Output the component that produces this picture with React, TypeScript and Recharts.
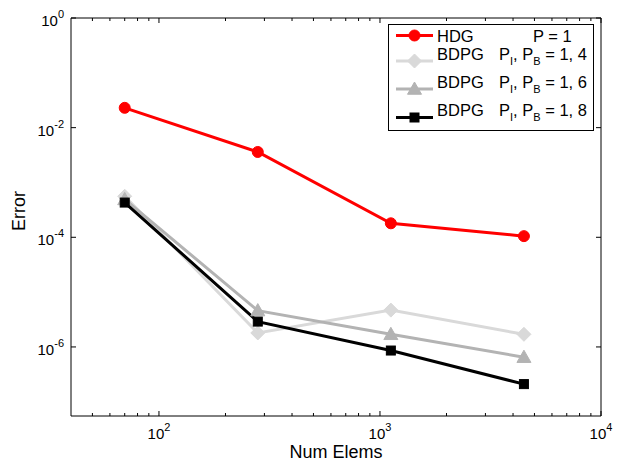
import React from 'react';
import { LineChart, Line, XAxis, YAxis, Legend } from 'recharts';

const numElems = [70, 280, 1120, 4480];
const hdgP1 = [2.3e-2, 3.6e-3, 1.8e-4, 1.05e-4];
const bdpg14 = [5.6e-4, 1.8e-6, 4.7e-6, 1.7e-6];
const bdpg16 = [4.9e-4, 4.6e-6, 1.7e-6, 6.5e-7];
const bdpg18 = [4.3e-4, 2.9e-6, 8.6e-7, 2.1e-7];

const xTicks = [50, 60, 70, 80, 90, 100, 200, 300, 400, 500, 600, 700, 800, 900, 1000, 2000, 3000, 4000, 5000, 6000, 7000, 8000, 9000, 10000];
const xMajor = [100, 1000, 10000];
const yTicks = [1e-6, 1e-4, 1e-2, 1];
const xDomain = [40, 10000];
const yDomain = [5.5e-8, 1];

const data = numElems.map((n, i) => ({
  n,
  hdg: hdgP1[i],
  b14: bdpg14[i],
  b16: bdpg16[i],
  b18: bdpg18[i],
}));

const FONT = '"Liberation Sans", Arial, Helvetica, sans-serif';
const RED = '#ff0000';
const LIGHT = '#d9d9d9';
const GRAY = '#b3b3b3';
const BLACK = '#000000';

const exp10 = (v: number) => Math.round(Math.log10(v));

const BottomTick = (props: any) => {
  const { x, y, payload } = props;
  const v = payload.value;
  const major = xMajor.includes(v);
  return (
    <g>
      <line x1={x} y1={y} x2={x} y2={y - (major ? 5 : 3)} stroke="#000" strokeWidth={1} />
      {major && (
        <text x={x} y={y + 23} textAnchor="middle" fontSize={15} fontFamily={FONT} fill="#000">
          <tspan>10</tspan>
          <tspan dy={-8} fontSize={11}>{String(exp10(v))}</tspan>
        </text>
      )}
    </g>
  );
};

const TopTick = (props: any) => {
  const { x, y, payload } = props;
  const major = xMajor.includes(payload.value);
  return <line x1={x} y1={y} x2={x} y2={y + (major ? 5 : 3)} stroke="#000" strokeWidth={1} />;
};

const LeftTick = (props: any) => {
  const { x, y, payload } = props;
  const v = payload.value;
  return (
    <g>
      <line x1={x} y1={y} x2={x + 5} y2={y} stroke="#000" strokeWidth={1} />
      <text x={x - 7} y={y + 8} textAnchor="end" fontSize={15} fontFamily={FONT} fill="#000">
        <tspan>10</tspan>
        <tspan dy={-8} fontSize={11}>{String(exp10(v))}</tspan>
      </text>
    </g>
  );
};

const RightTick = (props: any) => {
  const { x, y } = props;
  return <line x1={x} y1={y} x2={x - 5} y2={y} stroke="#000" strokeWidth={1} />;
};

const CircleDot = (props: any) => {
  const { cx, cy } = props;
  if (cx == null || cy == null) return null;
  return <circle cx={cx} cy={cy} r={5.5} fill={RED} stroke={RED} />;
};
const DiamondDot = (props: any) => {
  const { cx, cy } = props;
  if (cx == null || cy == null) return null;
  const s = 7;
  return <polygon points={`${cx},${cy - s} ${cx + s},${cy} ${cx},${cy + s} ${cx - s},${cy}`} fill={LIGHT} stroke={LIGHT} />;
};
const TriangleDot = (props: any) => {
  const { cx, cy } = props;
  if (cx == null || cy == null) return null;
  const s = 7;
  return <polygon points={`${cx},${cy - s} ${cx + s},${cy + s * 0.75} ${cx - s},${cy + s * 0.75}`} fill={GRAY} stroke={GRAY} />;
};
const SquareDot = (props: any) => {
  const { cx, cy } = props;
  if (cx == null || cy == null) return null;
  const s = 4.5;
  return <rect x={cx - s} y={cy - s} width={2 * s} height={2 * s} fill={BLACK} stroke={BLACK} />;
};

const LegendBox = () => {
  const rows = [
    { y: 11.5, color: RED, Dot: CircleDot, name: 'HDG', sub: false, tail: '' },
    { y: 37, color: LIGHT, Dot: DiamondDot, name: 'BDPG', sub: true, tail: '4' },
    { y: 65, color: GRAY, Dot: TriangleDot, name: 'BDPG', sub: true, tail: '6' },
    { y: 93.5, color: BLACK, Dot: SquareDot, name: 'BDPG', sub: true, tail: '8' },
  ];
  return (
    <svg width={206} height={107} style={{ display: 'block' }}>
      <rect x={0.5} y={0.5} width={205} height={106} fill="#fff" stroke="#000" strokeWidth={1} />
      {rows.map((r, i) => (
        <g key={i}>
          <line x1={8} y1={r.y} x2={45} y2={r.y} stroke={r.color} strokeWidth={3} />
          <r.Dot cx={26.5} cy={r.y} />
          {r.sub ? (
            <>
              <text x={49} y={r.y - 1.5} fontSize={16.5} fontFamily={FONT} fill="#000">{r.name}</text>
              <text x={111} y={r.y - 1.5} fontSize={16.5} fontFamily={FONT} fill="#000">
                <tspan>P</tspan>
                <tspan dy={5} fontSize={11}>I</tspan>
                <tspan dy={-5}>, P</tspan>
                <tspan dy={5} fontSize={11}>B</tspan>
                <tspan dy={-5}>{` = 1, ${r.tail}`}</tspan>
              </text>
            </>
          ) : (
            <>
              <text x={49} y={r.y + 6} fontSize={16.5} fontFamily={FONT} fill="#000">{r.name}</text>
              <text x={145} y={r.y + 6} fontSize={16.5} fontFamily={FONT} fill="#000">P = 1</text>
            </>
          )}
        </g>
      ))}
    </svg>
  );
};

export default function App() {
  return (
    <div style={{ position: 'absolute', left: 0, top: 0, width: 623, height: 466, background: '#fff' }}>
      <LineChart width={623} height={466} data={data} margin={{ top: 17, right: 21, bottom: 0, left: 0 }}>
        <XAxis
          dataKey="n"
          type="number"
          scale="log"
          domain={xDomain}
          allowDataOverflow
          ticks={xTicks}
          interval={0}
          tick={<BottomTick />}
          tickLine={false}
          tickSize={0}
          tickMargin={0}
          height={50}
          axisLine={{ stroke: '#000', strokeWidth: 1 }}
          label={{ value: 'Num Elems', position: 'insideBottom', offset: 8, fontSize: 18, fontFamily: FONT, fill: '#000' }}
        />
        <XAxis
          xAxisId="top"
          orientation="top"
          dataKey="n"
          type="number"
          scale="log"
          domain={xDomain}
          allowDataOverflow
          ticks={xTicks}
          interval={0}
          tick={<TopTick />}
          tickLine={false}
          tickSize={0}
          tickMargin={0}
          height={1}
          axisLine={{ stroke: '#000', strokeWidth: 1 }}
        />
        <YAxis
          type="number"
          scale="log"
          domain={yDomain}
          allowDataOverflow
          ticks={yTicks}
          interval={0}
          tick={<LeftTick />}
          tickLine={false}
          tickSize={0}
          tickMargin={0}
          width={71}
          axisLine={{ stroke: '#000', strokeWidth: 1 }}
          label={{
            content: () => {
              const cy = 211;
              return (
                <text x={25} y={cy} transform={`rotate(-90 25 ${cy})`} textAnchor="middle" fontSize={18} fontFamily={FONT} fill="#000">
                  Error
                </text>
              );
            },
          }}
        />
        <YAxis
          yAxisId="right"
          orientation="right"
          type="number"
          scale="log"
          domain={yDomain}
          allowDataOverflow
          ticks={yTicks}
          interval={0}
          tick={<RightTick />}
          tickLine={false}
          tickSize={0}
          tickMargin={0}
          width={1}
          axisLine={{ stroke: '#000', strokeWidth: 1 }}
        />
        <Legend
          layout="vertical"
          align="center"
          verticalAlign="middle"
          wrapperStyle={{ top: 24, left: 388, width: 206, height: 107 }}
          content={<LegendBox />}
        />
        <Line dataKey="hdg" stroke={RED} strokeWidth={3} dot={<CircleDot />} activeDot={false} isAnimationActive={false} />
        <Line dataKey="b14" stroke={LIGHT} strokeWidth={3} dot={<DiamondDot />} activeDot={false} isAnimationActive={false} />
        <Line dataKey="b16" stroke={GRAY} strokeWidth={3} dot={<TriangleDot />} activeDot={false} isAnimationActive={false} />
        <Line dataKey="b18" stroke={BLACK} strokeWidth={3} dot={<SquareDot />} activeDot={false} isAnimationActive={false} />
      </LineChart>
    </div>
  );
}
